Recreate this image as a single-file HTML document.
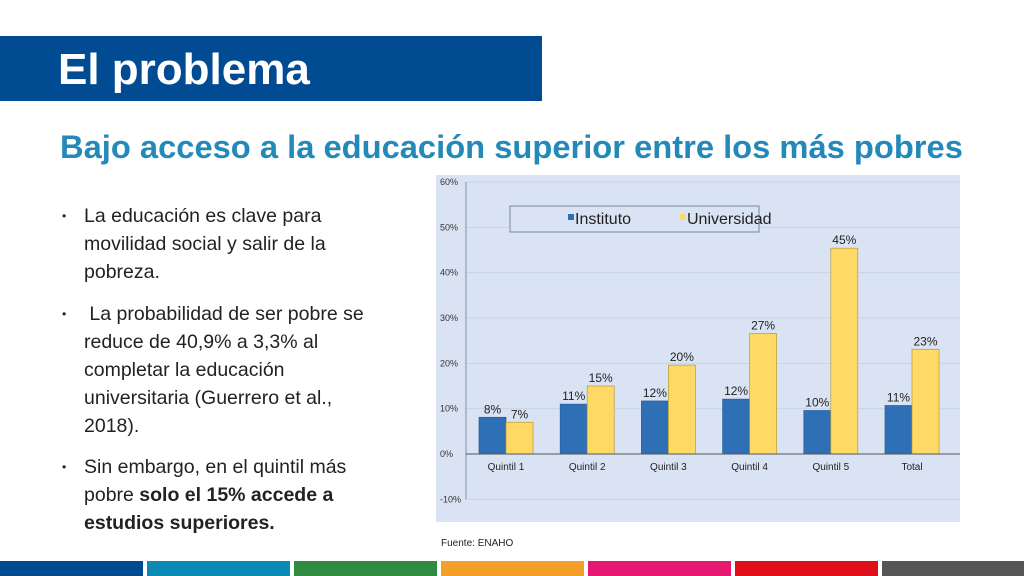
<!DOCTYPE html>
<html><head><meta charset="utf-8"><style>
body{margin:0;width:1024px;height:576px;position:relative;background:#fff;font-family:"Liberation Sans",sans-serif;overflow:hidden}
.abs{position:absolute}
#titlebar{left:0;top:36px;width:542px;height:65px;background:#004b91}
#title{left:58px;top:40px;color:#fff;font-weight:bold;font-size:44px;line-height:60px}
#subtitle{left:60px;top:127px;color:#2389b9;font-weight:bold;font-size:32.7px;line-height:40px;white-space:nowrap}
.bul{left:84px;width:305px;font-size:19.5px;line-height:28px;color:#222}
.dot{position:absolute;left:-22px;font-size:12px}
.strip{top:561px;height:15px}
</style></head><body>
<div class="abs" id="titlebar"></div>
<div class="abs" id="title">El problema</div>
<div class="abs" id="subtitle">Bajo acceso a la educación superior entre los más pobres</div>
<div class="abs bul" style="top:202px"><span class="dot">•</span>La educación es clave para movilidad social y salir de la pobreza.</div>
<div class="abs bul" style="top:300px"><span class="dot">•</span>&nbsp;La probabilidad de ser pobre se reduce de 40,9% a 3,3% al completar la educación universitaria (Guerrero et al., 2018).</div>
<div class="abs bul" style="top:453px"><span class="dot">•</span>Sin embargo, en el quintil más pobre <b>solo el 15% accede a estudios superiores.</b></div>
<div class="abs" style="left:441px;top:538px;font-size:10px;color:#222">Fuente: ENAHO</div>
<svg class="abs" style="left:0;top:0" width="1024" height="576" id="chart"></svg>
<div class="abs strip" style="left:0;width:143px;background:#004a8f"></div>
<div class="abs strip" style="left:147px;width:143px;background:#0a8ab4"></div>
<div class="abs strip" style="left:294px;width:143px;background:#2e8b40"></div>
<div class="abs strip" style="left:441px;width:143px;background:#f2a02a"></div>
<div class="abs strip" style="left:588px;width:143px;background:#e5196f"></div>
<div class="abs strip" style="left:735px;width:143px;background:#e0101a"></div>
<div class="abs strip" style="left:882px;width:142px;background:#555"></div>
<script>
const categories=["Quintil 1","Quintil 2","Quintil 3","Quintil 4","Quintil 5","Total"];
const instituto=[8.1,11,11.7,12.1,9.6,10.7];
const universidad=[7,15,19.6,26.6,45.4,23.1];
const ticks=[60,50,40,30,20,10,0,-10];
const svg=document.getElementById('chart');
const NS='http://www.w3.org/2000/svg';
function el(t,a,p){const e=document.createElementNS(NS,t);for(const k in a)e.setAttribute(k,a[k]);(p||svg).appendChild(e);return e;}
const y=v=>454-v*4.533;
const cx=i=>506+i*81.2;
const bw=27;
const bg=el('rect',{x:436,y:175,width:524,height:347,fill:'#dae3f3'});


ticks.forEach(t=>{
 const g=el('line',{x1:466,x2:960,y1:y(t),y2:y(t),stroke:'#c9d3e6','stroke-width':1});
 
 
 const tx=el('text',{x:440,y:y(t)+3,'font-size':9,fill:'#333'});
 tx.textContent=t+'%';
 
 
});
const ax=el('line',{x1:466,x2:466,y1:y(60),y2:y(-10),stroke:'#8090a8'});


categories.forEach((c,i)=>{
 [[instituto[i],'#2e6fb5',cx(i)-bw,'bar-instituto'],[universidad[i],'#ffd966',cx(i),'bar-universidad']].forEach(([v,col,x,n])=>{
  const r=el('rect',{x:x,y:y(v),width:bw,height:y(0)-y(v),fill:col,stroke:col=='#ffd966'?'#b89a3a':'#2a5f9a','stroke-width':0.7});
  
  
  const t=el('text',{x:x+bw/2,y:y(v)-4,'font-size':12,'text-anchor':'middle',fill:'#222'});
  t.textContent=Math.round(v)+'%';
  
  
 });
 const l=el('text',{x:cx(i),y:470,'font-size':10,'text-anchor':'middle',fill:'#222'});
 l.textContent=c;
 
 
});
const zl=el('line',{x1:466,x2:960,y1:y(0),y2:y(0),stroke:'#555'});


const lg=el('rect',{x:510,y:206,width:249,height:26,fill:'#dae3f3',stroke:'#7a86a0'});


[['Instituto','#2e6fb5',568],['Universidad','#ffd966',680]].forEach(([n,c,x])=>{
 const s=el('rect',{x:x,y:214,width:6,height:6,fill:c});
 
 
 const t=el('text',{x:x+7,y:224,'font-size':16,fill:'#222'});
 t.textContent=n;
 
 
});
</script>
</body></html>
